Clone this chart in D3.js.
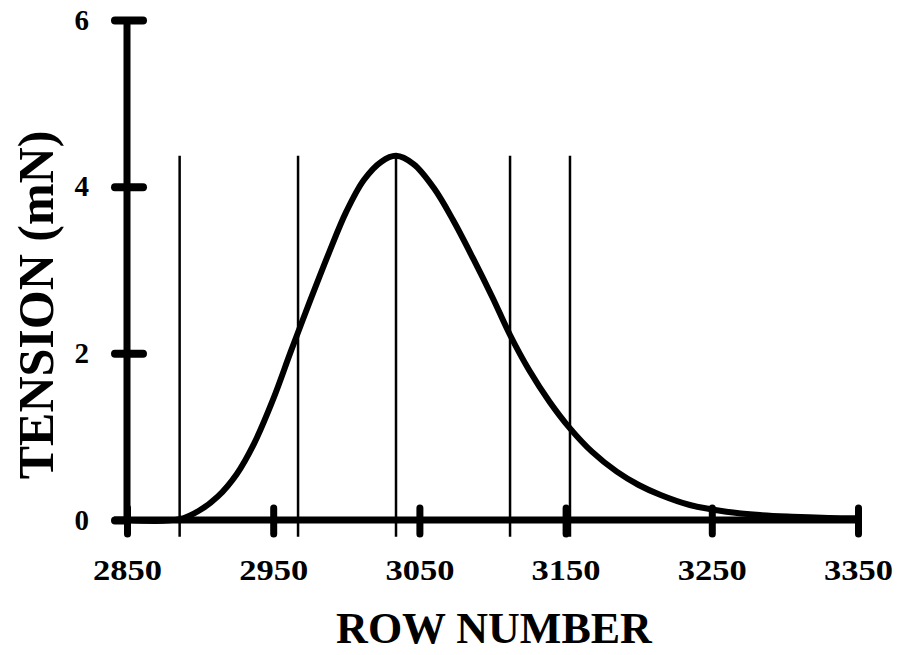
<!DOCTYPE html>
<html>
<head>
<meta charset="utf-8">
<script src="https://cdn.jsdelivr.net/npm/d3@7"></script>
<style>
  body { margin: 0; background: #fff; }
  svg text { font-family: "Liberation Serif", "Times New Roman", serif; font-weight: bold; fill: #000; }
</style>
</head>
<body>
<div id="chart"></div>
<script>
// values
const rowNumber = [2850, 2886, 2900, 2912, 2925, 2937, 2950, 2962, 2975, 2988, 3000, 3012, 3024, 3034,
    3046, 3060, 3073, 3087, 3100, 3112, 3125, 3139, 3153, 3168, 3185, 3200, 3215, 3235, 3260, 3283, 3305, 3330, 3350]
const tension = [0, 0.01, 0.12, 0.28, 0.55, 0.92, 1.45, 2.02, 2.62, 3.2, 3.7, 4.08, 4.3, 4.37,
    4.27, 3.98, 3.6, 3.13, 2.67, 2.22, 1.8, 1.42, 1.1, 0.82, 0.58, 0.42, 0.3, 0.18, 0.1, 0.06, 0.04, 0.025, 0.02]
const markerRows = [2886, 2967, 3034, 3112, 3153]
const markerTop = 4.37
const markerBottom = -0.2
const rowTicks = [2850, 2950, 3050, 3150, 3250, 3350]
const tensionTicks = [0, 2, 4, 6]

const width = 899
const height = 655

const x = d3.scaleLinear().domain([2850, 3350]).range([127, 858])
const y = d3.scaleLinear().domain([0, 6]).range([520, 20])

const svg = d3.select("#chart").append("svg")
    .attr("width", width)
    .attr("height", height)

// vertical marker lines
svg.append("g")
    .selectAll("line")
    .data(markerRows)
    .enter()
    .append("line")
    .attr("x1", d => x(d))
    .attr("x2", d => x(d))
    .attr("y1", y(markerTop))
    .attr("y2", y(markerBottom))
    .attr("stroke", "#000")
    .attr("stroke-width", 2.5)

// x axis, ticks crossing the line
const xAxis = svg.append("g")
    .attr("transform", "translate(0," + y(0) + ")")
    .call(d3.axisBottom(x).tickValues(rowTicks).tickSize(13).tickPadding(30).tickFormat(d3.format("d")))
xAxis.select(".domain")
    .attr("d", "M114,0H862")
    .attr("stroke-width", 7)
xAxis.selectAll(".tick line")
    .attr("y1", -12)
    .attr("y2", 14)
    .attr("stroke-width", 7)
    .attr("stroke-linecap", "round")
xAxis.selectAll(".tick text")
    .style("font-size", "30px")
    .attr("y", 0)
    .attr("dy", null)
    .attr("transform", "translate(0,60) scale(1.15,1)")

// y axis
const yAxis = svg.append("g")
    .attr("transform", "translate(" + x(2850) + ",0)")
    .call(d3.axisLeft(y).tickValues(tensionTicks).tickSize(12).tickPadding(26).tickFormat(d3.format("d")))
yAxis.select(".domain")
    .attr("d", "M0,20V520")
    .attr("stroke-width", 7)
yAxis.selectAll(".tick line")
    .attr("x1", -12)
    .attr("x2", d => d === 0 ? 0 : 16)
    .attr("stroke-width", 8)
    .attr("stroke-linecap", "round")
yAxis.selectAll(".tick text")
    .style("font-size", "29px")

// tension curve
const line = d3.line()
    .x((d, i) => x(rowNumber[i]))
    .y(d => y(d))
    .curve(d3.curveCatmullRom.alpha(0.5))

svg.append("path")
    .datum(tension)
    .attr("d", line)
    .attr("fill", "none")
    .attr("stroke", "#000")
    .attr("stroke-width", 6)
    .attr("stroke-linejoin", "round")

// axis titles
svg.append("text")
    .attr("x", 494)
    .attr("y", 643)
    .attr("text-anchor", "middle")
    .style("font-size", "44px")
    .text("ROW NUMBER")

svg.append("text")
    .attr("transform", "translate(53,305) rotate(-90)")
    .attr("text-anchor", "middle")
    .style("font-size", "50px")
    .text("TENSION (mN)")
</script>
</body>
</html>
